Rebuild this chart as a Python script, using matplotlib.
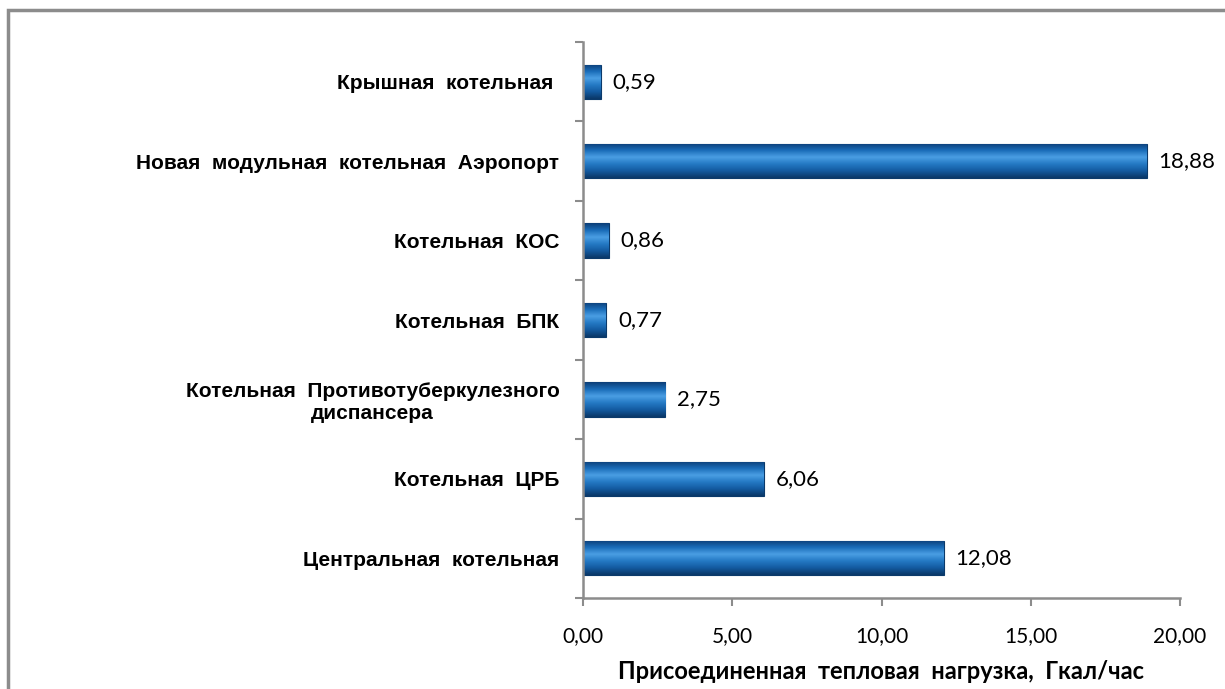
import numpy as np
import matplotlib.pyplot as plt
from matplotlib.patches import Rectangle
from matplotlib.colors import LinearSegmentedColormap

# data (bottom to top)
categories = ['Центральная  котельная', 'Котельная  ЦРБ',
              'Котельная  Противотуберкулезного\nдиспансера', 'Котельная  БПК',
              'Котельная  КОС', 'Новая  модульная  котельная  Аэропорт',
              'Крышная  котельная ']
values = [12.08, 6.06, 2.75, 0.77, 0.86, 18.88, 0.59]
value_labels = ['12,08', '6,06', '2,75', '0,77', '0,86', '18,88', '0,59']
xticks = [0, 5, 10, 15, 20]
xtick_labels = ['0,00', '5,00', '10,00', '15,00', '20,00']

fig = plt.figure(figsize=(12.25, 6.89), dpi=100)
ax = fig.add_axes([583/1225, 1 - 598/689, (1180 - 583)/1225, (598 - 42)/689])

# frame around the whole chart (cut off at right/bottom like the original)
fig.patches.append(Rectangle((8/1225, -0.1), 1.2, 1 - 10/689 + 0.1,
                             transform=fig.transFigure, fill=False,
                             edgecolor='#8c8c8c', linewidth=2.5))

y = np.arange(len(categories))
bar_h = 0.43
bars = ax.barh(y, values, height=bar_h, color='#1b64ad', edgecolor='#0b3a6b',
               linewidth=0.8, zorder=2)

# cylinder-like shading on every bar
cyl = LinearSegmentedColormap.from_list('cyl', ['#0c3f78', '#1a6cb8', '#4a9ee3',
                                                '#2479c4', '#135aa0', '#0a3868'])
grad = np.linspace(0, 1, 64).reshape(-1, 1)
for b in bars:
    x0, y0, w, h = b.get_x(), b.get_y(), b.get_width(), b.get_height()
    im = ax.imshow(grad, cmap=cyl, aspect='auto', origin='upper',
                   extent=[x0, x0 + w, y0, y0 + h], zorder=2.5)
    im.set_clip_path(b)

for yi, v, lab in zip(y, values, value_labels):
    ax.text(v + 0.4, yi, lab, va='center', ha='left', fontsize=16,
            family='Lato', color='black')

ax.set_xlim(0, 20)
ax.set_ylim(-0.5, len(categories) - 0.5)
ax.set_xticks(xticks)
ax.set_xticklabels(xtick_labels, family='Lato', fontsize=15)
ax.set_yticks(y)
ax.set_yticklabels(categories, fontsize=15, fontweight='bold',
                   family='Liberation Sans', multialignment='center')
ax.tick_params(axis='y', length=0, pad=17)
ax.set_yticks(np.arange(-0.5, len(categories)), minor=True)
ax.tick_params(axis='y', which='minor', length=6, color='#8c8c8c', width=1.5)
ax.tick_params(axis='x', length=6, color='#8c8c8c', width=1.5, pad=14)

for s in ['top', 'right']:
    ax.spines[s].set_visible(False)
for s in ['left', 'bottom']:
    ax.spines[s].set_color('#8c8c8c')
    ax.spines[s].set_linewidth(1.8)

ax.set_xlabel('Присоединенная  тепловая  нагрузка,  Гкал/час', fontsize=17,
              fontweight='bold', family='Lato', labelpad=10)

fig.savefig('out.png', dpi=100)
